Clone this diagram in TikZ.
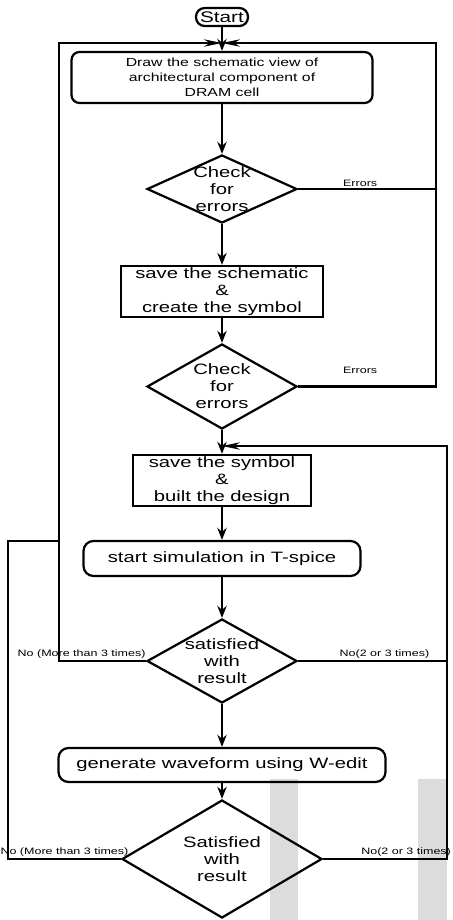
\documentclass[tikz,border=0pt]{standalone}
\usepackage{fontspec}
\setmainfont{Liberation Sans}[FakeStretch=1.35]
\usetikzlibrary{arrows.meta, shapes.geometric}
\definecolor{Ink}{HTML}{000000}
\definecolor{Bar}{HTML}{DCDCDC}

\begin{document}
\begin{tikzpicture}[
  x=0.3mm, y=-0.3mm,
  font=\fontsize{12.8}{14.5}\selectfont,
  terminal/.style={
    draw=Ink,
    line width=1.9pt,
    rounded corners=2.6mm,
    minimum width=15.6mm,
    minimum height=5.4mm,
    inner sep=0pt,
    font=\fontsize{13.1}{15}\selectfont
  },
  process/.style={
    draw=Ink,
    line width=1.9pt,
    align=center,
    inner sep=0pt
  },
  roundproc/.style={
    process,
    rounded corners=3mm
  },
  decision/.style={
    diamond,
    draw=Ink,
    line width=1.9pt,
    align=center,
    inner sep=-1mm,
    shape aspect=2
  },
  flow/.style={
    -{Stealth[length=3.6mm,width=2.8mm]},
    line width=1.9pt,
    draw=Ink
  },
  back/.style={
    -{Stealth[length=5.4mm,width=2.2mm]},
    line width=1.9pt,
    draw=Ink
  },
  link/.style={
    line width=1.9pt,
    draw=Ink
  },
  tag/.style={
    font=\fontsize{7.9}{9}\selectfont,
    inner sep=1pt
  }
]

\useasboundingbox (0,0) rectangle (452,920);
\fill[Bar] (270,779) rectangle (298,920);
\fill[Bar] (418,779) rectangle (447,920);

\node[terminal] (start) at (222,17) {Start};

\node[roundproc, rounded corners=2.4mm, minimum width=90.3mm, minimum height=15.3mm,
  font=\fontsize{10}{12.8}\selectfont] (schem) at (222,77.5)
  {Draw the schematic view of\\architectural component of\\DRAM cell};

\node[decision, minimum width=45mm, minimum height=20.4mm] (chk1) at (222,189)
  {Check\\for\\errors};

\node[process, minimum width=60.6mm, minimum height=15.3mm] (savesch) at (222,291.5)
  {save the schematic\\\&\\create the symbol};

\node[decision, minimum width=45mm, minimum height=25.5mm] (chk2) at (222,386.5)
  {Check\\for\\errors};

\node[process, minimum width=53.4mm, minimum height=15.3mm] (savesym) at (222,480.5)
  {save the symbol\\\&\\built the design};

\node[roundproc, minimum width=83.1mm, minimum height=10.5mm] (sim) at (222,558.5)
  {start simulation in T-spice};

\node[decision, minimum width=45mm, minimum height=25.2mm] (sat1) at (222,661)
  {satisfied\\with\\result};

\node[roundproc, minimum width=98.1mm, minimum height=10.2mm] (wave) at (222,765)
  {generate waveform using W-edit};

\node[decision, minimum width=60mm, minimum height=35.4mm] (sat2) at (222,859)
  {Satisfied\\with\\result};

\coordinate (topjoin) at (222,43);
\coordinate (ltop) at (59,43);
\coordinate (rtop) at (436,43);
\coordinate (midjoin) at (222,446);
\coordinate (rmid) at (447,446);
\coordinate (lout) at (8,541);

\draw[flow] (start) -- (schem);
\draw[flow] (schem) -- (chk1);
\draw[flow] (chk1) -- (savesch);
\draw[flow] (savesch) -- (chk2);
\draw[flow] (chk2) -- (savesym);
\draw[flow] (savesym) -- (sim);
\draw[flow] (sim) -- (sat1);
\draw[flow] (sat1) -- (wave);
\draw[flow] (wave) -- (sat2);

\draw[link] (chk1.east) -- node[tag, above, pos=.45] {Errors} (chk1.east -| rtop);
\draw[back] (chk2.east) -- node[tag, above=3.3mm, pos=.45] {Errors}
  (chk2.east -| rtop) -- (rtop) -- (topjoin);

\draw[back] (sat1.west) -- node[tag, above, pos=.74] {No (More than 3 times)}
  (sat1.west -| ltop) -- (ltop) -- (topjoin);
\draw[back] (sat1.east) -- node[tag, above, pos=.58] {No(2 or 3 times)}
  (sat1.east -| rmid) -- (rmid) -- (midjoin);

\draw[link] (sat2.east) -- node[tag, above, pos=.67] {No(2 or 3 times)}
  (sat2.east -| rmid) -- (sat1.east -| rmid);
\draw[link] (sat2.west) -- node[tag, above, pos=.5] {No (More than 3 times)}
  (sat2.west -| lout) -- (lout) -- (lout -| ltop);

\end{tikzpicture}
\end{document}
